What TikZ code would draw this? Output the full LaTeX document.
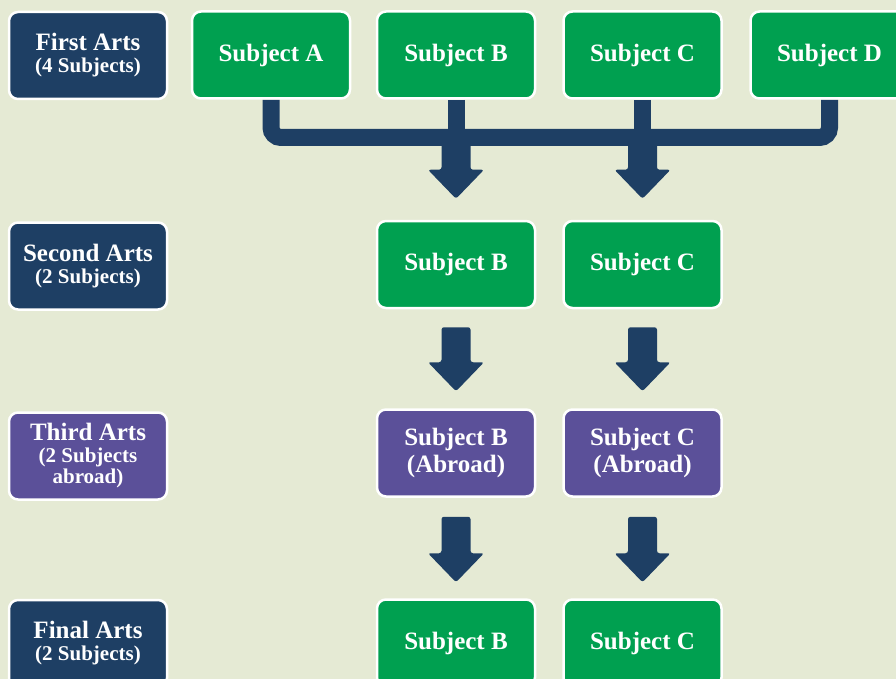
\documentclass[tikz,border=0pt]{standalone}
\usepackage{fontspec}
\setmainfont{Liberation Serif}
\usetikzlibrary{calc,backgrounds}
\definecolor{bg}{RGB}{229,234,212}
\definecolor{navy}{RGB}{30,63,100}
\definecolor{grn}{RGB}{0,160,80}
\definecolor{purp}{RGB}{91,80,153}
\newcommand\subf{\fontsize{21}{22}\selectfont}
\tikzset{
  box/.style={rounded corners=9pt, draw=white, line width=2.5pt,
    minimum width=158pt, minimum height=87pt, text=white,
    font=\bfseries\fontsize{25}{27}\selectfont, align=center, inner sep=0pt},
  lab/.style={box, fill=navy},
  subj/.style={box, fill=grn},
  abr/.style={box, fill=purp},
  conn/.style={draw=navy, line width=17pt},
}
\newcommand\blockarrow[2]{%
  \fill[navy, rounded corners=2.5pt] let \p1=(#1), \p2=(#2) in
    (\x1-14.5pt,\y1) -- (\x1+14.5pt,\y1) -- (\x1+14.5pt,\y2+29pt) --
    (\x1+28pt,\y2+29pt) -- (\x1,\y2) -- (\x1-28pt,\y2+29pt) --
    (\x1-14.5pt,\y2+29pt) -- cycle;}
\begin{document}
\begin{tikzpicture}[x=1pt,y=-1pt]
\useasboundingbox (0,0) rectangle (896,679);
\clip (0,0) rectangle (896,679);
% row 1
\node[lab]  (L1) at (88,55.5) {First Arts\\[-5pt]{\subf (4 Subjects)}};
\node[subj] (A1) at (271,55) {Subject A};
\node[subj] (B1) at (456,55) {Subject B};
\node[subj] (C1) at (642.5,55) {Subject C};
\node[subj] (D1) at (829.5,55) {Subject D};
% row 2
\node[lab]  (L2) at (88,266) {Second Arts\\[-5pt]{\subf (2 Subjects)}};
\node[subj] (B2) at (456,264.5) {Subject B};
\node[subj] (C2) at (642.5,264.5) {Subject C};
% row 3
\node[box, fill=purp] (L3) at (88,456) {Third Arts\\[-5pt]{\subf (2 Subjects}\\[-6pt]{\subf abroad)}};
\node[abr]  (B3) at (456,453) {Subject B\\(Abroad)};
\node[abr]  (C3) at (642.5,453) {Subject C\\(Abroad)};
% row 4
\node[lab]  (L4) at (88,643.5) {Final Arts\\[-5pt]{\subf (2 Subjects)}};
\node[subj] (B4) at (456,643) {Subject B};
\node[subj] (C4) at (642.5,643) {Subject C};
\begin{scope}[on background layer]
  \fill[bg] (0,0) rectangle (896,679);
  \coordinate (bar) at (456,137.5);
  \draw[conn, rounded corners=10pt] (A1.south) |- (bar) -| (D1.south);
  \draw[conn] (B1.south) -- (B1.south |- bar);
  \draw[conn] (C1.south) -- (C1.south |- bar);
  \coordinate (t1) at (B1.south |- bar);
  \coordinate (t2) at (C1.south |- bar);
  \blockarrow{t1}{$(B2.north)+(0,-21)$}
  \blockarrow{t2}{$(C2.north)+(0,-21)$}
  \blockarrow{$(B2.south)+(0,18)$}{$(B3.north)+(0,-17)$}
  \blockarrow{$(C2.south)+(0,18)$}{$(C3.north)+(0,-17)$}
  \blockarrow{$(B3.south)+(0,19)$}{$(B4.north)+(0,-16)$}
  \blockarrow{$(C3.south)+(0,19)$}{$(C4.north)+(0,-16)$}
\end{scope}
\end{tikzpicture}
\end{document}
